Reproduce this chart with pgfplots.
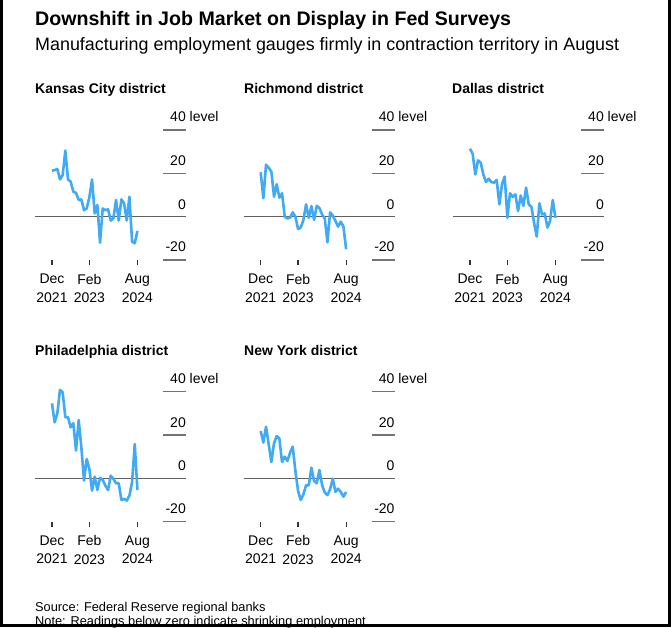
\documentclass[border=0pt]{standalone}
\usepackage{fontspec}
\setmainfont{Liberation Sans}
\usepackage{pgfplots}
\usepackage{pgfplotstable}
\pgfplotsset{compat=1.18}
\definecolor{lineblue}{RGB}{64,170,244}
\definecolor{zerogray}{RGB}{95,95,95}
\definecolor{gridgray}{RGB}{115,115,115}

\pgfplotstableread{
m kc rich dal phil ny
0 21.2 20.5 31.4 34.6 21.8
1 21.5 8.5 29 25.8 16.5
2 22 24 19.5 30 23.8
3 17.2 22.6 26 40.8 15.7
4 19.2 20.8 25 39.7 7.5
5 30.5 9.2 19.5 28.2 16.2
6 17.2 15 16 28.2 19.5
7 16.2 8.8 17.5 23.5 18.3
8 11.5 10.8 16 25.4 7.5
9 11 0 15.7 12.8 10
10 7.7 -0.8 17 26.9 8
11 8 -0.5 5.7 14.3 11.8
12 3 2 15 -1 14.6
13 3.8 0 18.5 8.9 3.4
14 9 -5.7 -0.5 4.3 -5.8
15 17.2 -5 10.8 -5.7 -10
16 1.5 -1.5 9.2 0.8 -7.4
17 5.4 5.7 10.3 -5.4 -3.2
18 -12 -0.5 2.6 0.2 -3.2
19 3.8 4.9 9.8 -0.7 4.9
20 3 -1.5 5 -3.4 -1.2
21 3.4 5 13.4 -5.4 -2.3
22 -1.8 4 5.7 1.2 3.8
23 -0.8 1 4.6 -0.3 -3.2
24 7.7 -0.8 -2.8 -2.3 -6.6
25 -1.8 -11.8 -9.2 -2.3 -7.8
26 8 2 6.2 -10 -5
27 6.2 0.5 1 -9.5 -0.2
28 -1.8 -2 1.5 -10.3 -6.3
29 9.2 -4.6 -5 -8 -4.8
30 -11.5 -2.3 -2 -1.8 -6.3
31 -12.3 -4.6 7.7 15.8 -8.5
32 -6.6 -15 -0.5 -5.4 -6.3
}\fedtable

\pgfplotsset{
  panel/.style={
    scale only axis, width=151.1pt, height=140.8pt,
    xmin=-6.4, xmax=50.2, ymin=-20, ymax=45,
    axis x line*=bottom, axis y line=none,
    x axis line style={draw=none},
    xtick={0,14,32},
    xticklabels={{Dec\\2021},{Feb\\2023},{Aug\\2024}},
    xtick align=outside, major tick length=5pt,
    tick style={draw=black!80, line width=1.2pt},
    xticklabel style={align=center, font=\fontsize{14}{18.4}\selectfont, inner sep=0pt, anchor=north, yshift=-9pt},
    ytick=\empty,
    clip=false,
    anchor=south west,
  }
}

\newcommand{\ylab}{\fontsize{14}{16}\selectfont}
\newcommand{\panelbody}[1]{%
  \draw[zerogray, line width=1.2pt] (axis cs:-6.4,0) -- (axis cs:50.2,0);
  \draw[gridgray, line width=1.2pt] (axis cs:41.6,40) -- (axis cs:50.2,40);
  \draw[gridgray, line width=1.2pt] (axis cs:41.6,20) -- (axis cs:50.2,20);
  \draw[gridgray, line width=1.2pt] (axis cs:41.6,-20) -- (axis cs:50.2,-20);
  \addplot[lineblue, line width=2.6pt, line join=round] table[x=m, y=#1] {\fedtable};
  \node[anchor=base east, inner sep=0pt, font=\ylab, yshift=8.5pt] at (axis cs:50.2,40) {40\rlap{ level}};
  \node[anchor=base east, inner sep=0pt, font=\ylab, yshift=7.5pt] at (axis cs:50.2,20) {20};
  \node[anchor=base east, inner sep=0pt, font=\ylab, yshift=7.5pt] at (axis cs:50.2,0) {0};
  \node[anchor=base east, inner sep=0pt, font=\ylab, yshift=8.3pt] at (axis cs:50.2,-20) {-20};
}

\begin{document}
\begin{tikzpicture}
\useasboundingbox (0,0) rectangle (671pt,-627pt);
\clip (0,0) rectangle (671pt,-627pt);
\fill[white] (0,0) rectangle (671pt,-627pt);

\node[anchor=base west, inner sep=0pt, font=\fontsize{19.6}{22}\selectfont\bfseries] at (35pt,-25.5pt) {Downshift in Job Market on Display in Fed Surveys};
\node[anchor=base west, inner sep=0pt, font=\fontsize{17.9}{20}\selectfont] at (35pt,-50.5pt) {Manufacturing employment gauges firmly in contraction territory in August};

\node[anchor=base west, inner sep=0pt, font=\fontsize{14}{16}\selectfont\bfseries] at (35pt,-93.5pt) {Kansas City district};
\node[anchor=base west, inner sep=0pt, font=\fontsize{14}{16}\selectfont\bfseries] at (244pt,-93.5pt) {Richmond district};
\node[anchor=base west, inner sep=0pt, font=\fontsize{14}{16}\selectfont\bfseries] at (452pt,-93.5pt) {Dallas district};
\node[anchor=base west, inner sep=0pt, font=\fontsize{14}{16}\selectfont\bfseries] at (35pt,-355pt) {Philadelphia district};
\node[anchor=base west, inner sep=0pt, font=\fontsize{14}{16}\selectfont\bfseries] at (244pt,-355pt) {New York district};

\begin{axis}[panel, at={(34.9pt,-260pt)}]
\panelbody{kc}
\end{axis}
\begin{axis}[panel, at={(243.6pt,-260pt)}]
\panelbody{rich}
\end{axis}
\begin{axis}[panel, at={(452.9pt,-260pt)}]
\panelbody{dal}
\end{axis}
\begin{axis}[panel, at={(34.9pt,-521.6pt)}]
\panelbody{phil}
\end{axis}
\begin{axis}[panel, at={(243.6pt,-521.6pt)}]
\panelbody{ny}
\end{axis}

\node[anchor=base west, inner sep=0pt, font=\fontsize{12.8}{14}\selectfont] at (35pt,-611pt) {Source: Federal Reserve regional banks};
\node[anchor=base west, inner sep=0pt, font=\fontsize{12.8}{14}\selectfont] at (35pt,-625.5pt) {Note: Readings below zero indicate shrinking employment};

\draw[black, line width=3pt] (1.5pt,0) -- (1.5pt,-625.5pt) -- (669.5pt,-625.5pt) -- (669.5pt,0);
\end{tikzpicture}
\end{document}
